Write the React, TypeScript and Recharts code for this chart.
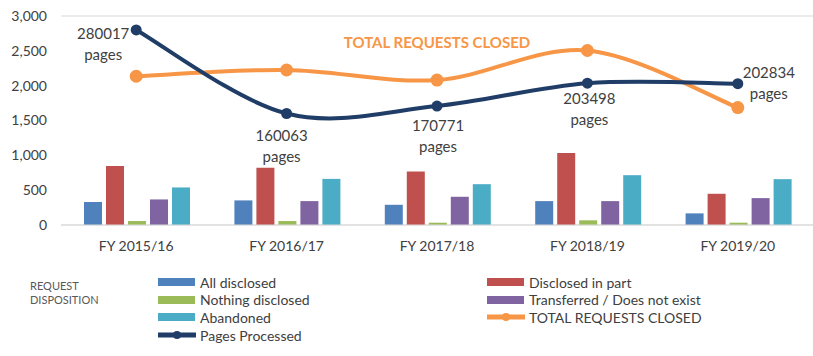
import {
  ComposedChart,
  Bar,
  Line,
  XAxis,
  YAxis,
  CartesianGrid,
  Legend,
  LabelList,
} from 'recharts'

const YEARS = ['FY 2015/16', 'FY 2016/17', 'FY 2017/18', 'FY 2018/19', 'FY 2019/20']
const ALL_DISCLOSED = [330, 353, 290, 343, 167]
const DISCLOSED_IN_PART = [848, 822, 768, 1034, 448]
const NOTHING_DISCLOSED = [57, 57, 33, 67, 33]
const TRANSFERRED = [367, 343, 405, 343, 386]
const ABANDONED = [539, 662, 586, 715, 658]
const TOTAL_CLOSED = [2135, 2225, 2080, 2505, 1685]
const PAGES = [280017, 160063, 170771, 203498, 202834]
const Y_TICKS = [0, 500, 1000, 1500, 2000, 2500, 3000]

const FONT = 'Lato, "Open Sans", sans-serif'
const TEXT = '#404040'

const BAR_SERIES = [
  { key: 'allDisclosed', name: 'All disclosed', color: '#4F81BD' },
  { key: 'inPart', name: 'Disclosed in part', color: '#C0504D' },
  { key: 'nothing', name: 'Nothing disclosed', color: '#9BBB59' },
  { key: 'transferred', name: 'Transferred / Does not exist', color: '#8064A2' },
  { key: 'abandoned', name: 'Abandoned', color: '#4BACC6' },
]
const ORANGE = '#F79646'
const NAVY = '#1F3D66'

const data = YEARS.map((year, i) => ({
  year,
  allDisclosed: ALL_DISCLOSED[i],
  inPart: DISCLOSED_IN_PART[i],
  nothing: NOTHING_DISCLOSED[i],
  transferred: TRANSFERRED[i],
  abandoned: ABANDONED[i],
  total: TOTAL_CLOSED[i],
  pages: PAGES[i],
}))

// Excel-style smoothed line (Catmull-Rom through the points)
function excelSmooth(context: any) {
  let pts: number[][] = []
  return {
    areaStart() {},
    areaEnd() {},
    lineStart() {
      pts = []
    },
    lineEnd() {
      if (!pts.length) return
      context.moveTo(pts[0][0], pts[0][1])
      for (let i = 0; i < pts.length - 1; i++) {
        const p0 = pts[i - 1] || pts[i]
        const p1 = pts[i]
        const p2 = pts[i + 1]
        const p3 = pts[i + 2] || pts[i + 1]
        context.bezierCurveTo(
          p1[0] + (p2[0] - p0[0]) / 6,
          p1[1] + (p2[1] - p0[1]) / 6,
          p2[0] - (p3[0] - p1[0]) / 6,
          p2[1] - (p3[1] - p1[1]) / 6,
          p2[0],
          p2[1],
        )
      }
    },
    point(x: number, y: number) {
      pts.push([+x, +y])
    },
  }
}

// offsets of the two-line "pages" labels relative to each point
const PAGE_LABEL_POS = [
  { dx: -33, dy: 4 },
  { dx: -5, dy: 22 },
  { dx: 1, dy: 20 },
  { dx: 2, dy: 16 },
  { dx: 31, dy: -11 },
]

const PagesLabel = (props: any) => {
  const { x, y, index, value } = props
  const p = PAGE_LABEL_POS[index]
  const cx = x + p.dx
  const cy = y + p.dy
  return (
    <text x={cx} y={cy} textAnchor="middle" fill={TEXT} fontSize={15} fontFamily={FONT}>
      <tspan x={cx} dy="0.35em">{value}</tspan>
      <tspan x={cx} dy="21">pages</tspan>
    </text>
  )
}

const TotalLabel = (props: any) => {
  const { x, y, index } = props
  if (index !== 2) return null
  return (
    <text x={x} y={y - 37} dy="0.35em" textAnchor="middle" fill={ORANGE} fontSize={15}
      fontWeight={700} fontFamily={FONT}>
      TOTAL REQUESTS CLOSED
    </text>
  )
}

const LegendContent = () => {
  const items = [
    ...BAR_SERIES.map((s) => ({ name: s.name, color: s.color, line: false })),
    { name: 'TOTAL REQUESTS CLOSED', color: ORANGE, line: true },
    { name: 'Pages Processed', color: NAVY, line: true },
  ]
  return (
    <div style={{ position: 'relative', width: 813, height: 80, fontFamily: FONT, color: TEXT }}>
      <div style={{ position: 'absolute', left: 30, top: 7, fontSize: 11, lineHeight: '14px', color: '#595959' }}>
        REQUEST<br />DISPOSITION
      </div>
      {items.map((it, i) => {
        const col = i % 2
        const row = Math.floor(i / 2)
        return (
          <div key={it.name} style={{
            position: 'absolute', left: col ? 487 : 158, top: 2 + row * 17.7,
            display: 'flex', alignItems: 'center', height: 16, fontSize: 14, whiteSpace: 'nowrap',
          }}>
            <svg width={38} height={12} style={{ marginRight: 4 }}>
              {it.line ? (
                <>
                  <rect x={0} y={3.5} width={38} height={5} fill={it.color} />
                  <circle cx={19} cy={6} r={4} fill={it.color} />
                </>
              ) : (
                <rect x={0} y={2} width={37} height={8} fill={it.color} />
              )}
            </svg>
            {it.name}
          </div>
        )
      })}
    </div>
  )
}

export default function App() {
  return (
    <div style={{ position: 'absolute', left: 0, top: 0, width: 813, height: 356, background: '#fff' }}>
      <ComposedChart
        width={813}
        height={356}
        data={data}
        margin={{ top: 16, right: 0, left: 0, bottom: 101 }}
        barCategoryGap={23}
        barGap={4}
      >
        <CartesianGrid vertical={false} stroke="#D9D9D9" />
        <XAxis
          dataKey="year"
          tick={{ fill: TEXT, fontSize: 14, fontFamily: FONT }}
          tickLine={false}
          axisLine={{ stroke: '#D9D9D9' }}
          tickMargin={10}
          height={30}
        />
        <YAxis
          yAxisId="count"
          domain={[0, 3000]}
          ticks={Y_TICKS}
          tickFormatter={(v) => Number(v).toLocaleString('en-US')}
          tick={{ fill: TEXT, fontSize: 14, fontFamily: FONT }}
          tickLine={false}
          axisLine={false}
          tickMargin={8}
          width={61}
        />
        <YAxis yAxisId="pages" hide domain={[0, 300000]} />
        {BAR_SERIES.map((s) => (
          <Bar key={s.key} yAxisId="count" dataKey={s.key} name={s.name} fill={s.color}
            isAnimationActive={false} />
        ))}
        <Line
          yAxisId="count"
          dataKey="total"
          name="TOTAL REQUESTS CLOSED"
          type={excelSmooth as any}
          stroke={ORANGE}
          strokeWidth={4}
          dot={{ r: 6.5, fill: ORANGE, stroke: 'none' }}
          activeDot={false}
          isAnimationActive={false}
        >
          <LabelList dataKey="total" content={TotalLabel} />
        </Line>
        <Line
          yAxisId="pages"
          dataKey="pages"
          name="Pages Processed"
          type={excelSmooth as any}
          stroke={NAVY}
          strokeWidth={4}
          dot={{ r: 5.5, fill: NAVY, stroke: 'none' }}
          activeDot={false}
          isAnimationActive={false}
        >
          <LabelList dataKey="pages" content={PagesLabel} />
        </Line>
        <Legend
          layout="horizontal"
          verticalAlign="middle"
          align="center"
          content={LegendContent}
          wrapperStyle={{ top: 272, left: 0, width: 813 }}
        />
      </ComposedChart>
    </div>
  )
}
